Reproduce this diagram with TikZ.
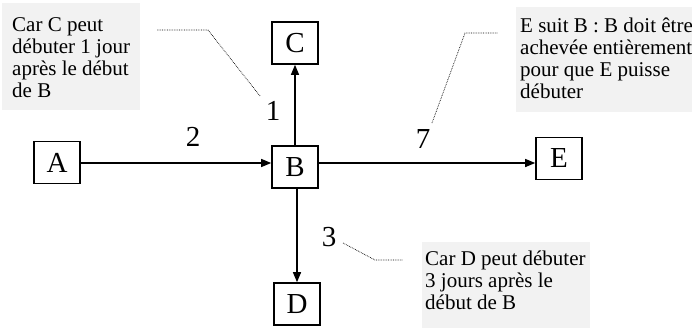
\documentclass[tikz,border=0pt]{standalone}
\usepackage{fontspec}
\setmainfont{Liberation Serif}
\usetikzlibrary{arrows.meta}
\definecolor{notefill}{HTML}{F2F2F2}
\begin{document}
\begin{tikzpicture}[x=1pt,y=-1pt,
  task/.style={draw, line width=1.6pt, minimum width=46pt, minimum height=42pt,
    inner sep=0pt, font=\fontsize{29}{32}\selectfont},
  link/.style={line width=1.3pt, -{Triangle[length=10pt,width=8pt]}},
  dur/.style={inner sep=0pt, font=\fontsize{29}{32}\selectfont},
  note/.style={fill=notefill, draw=none},
  notetext/.style={anchor=north west, inner sep=0pt, align=left,
    font=\fontsize{21}{22}\selectfont},
  leader/.style={densely dotted, line width=0.7pt, black}]
  \useasboundingbox (0,0) rectangle (692,327);
  \clip (0,0) rectangle (692,327);

  % comment boxes
  \fill[note] (2,3) rectangle (140,110);
  \fill[note] (516,7) rectangle (720,112);
  \fill[note] (422,242) rectangle (590,330);
  \node[notetext] (nC) at (12,15.6) {\strut Car C peut\\débuter 1 jour\\après le début\\de B};
  \node[notetext] (nE) at (520,16.6) {\strut E suit B : B doit être\\achevée entièrement\\pour que E puisse\\débuter};
  \node[notetext] (nD) at (425,249.6) {\strut Car D peut débuter\\3 jours après le\\début de B};

  % tasks
  \node[task] (A) at (57,162.5) {A};
  \node[task] (B) at (295,167) {B};
  \node[task] (C) at (295,43) {C};
  \node[task] (D) at (297,304) {D};
  \node[task] (E) at (559,158.5) {E};

  % precedence links
  \coordinate (row) at (0,163);
  \draw[link] (A.east |- row) -- (B.west |- row);
  \draw[link] (B.east |- row) -- (E.west |- row);
  \draw[link] (B.north) -- (C.south);
  \draw[link] (B.south -| D.north) -- (D.north);

  % durations
  \node[dur] (d2) at (193,137) {2};
  \node[dur] (d1) at (273,111) {1};
  \node[dur] (d7) at (423,139) {7};
  \node[dur] (d3) at (329,237) {3};

  % leaders from durations to comments
  \coordinate (l1a) at (157,30);
  \coordinate (l1b) at (208,30);
  \coordinate (l1c) at (260,96);
  \draw[leader] (l1a) -- (l1b) -- (l1c);
  \coordinate (l7a) at (432,123);
  \coordinate (l7b) at (465,33);
  \coordinate (l7c) at (498,33);
  \draw[leader] (l7a) -- (l7b) -- (l7c);
  \coordinate (l3a) at (343,243);
  \coordinate (l3b) at (375,260);
  \coordinate (l3c) at (403,260);
  \draw[leader] (l3a) -- (l3b) -- (l3c);
\end{tikzpicture}
\end{document}
